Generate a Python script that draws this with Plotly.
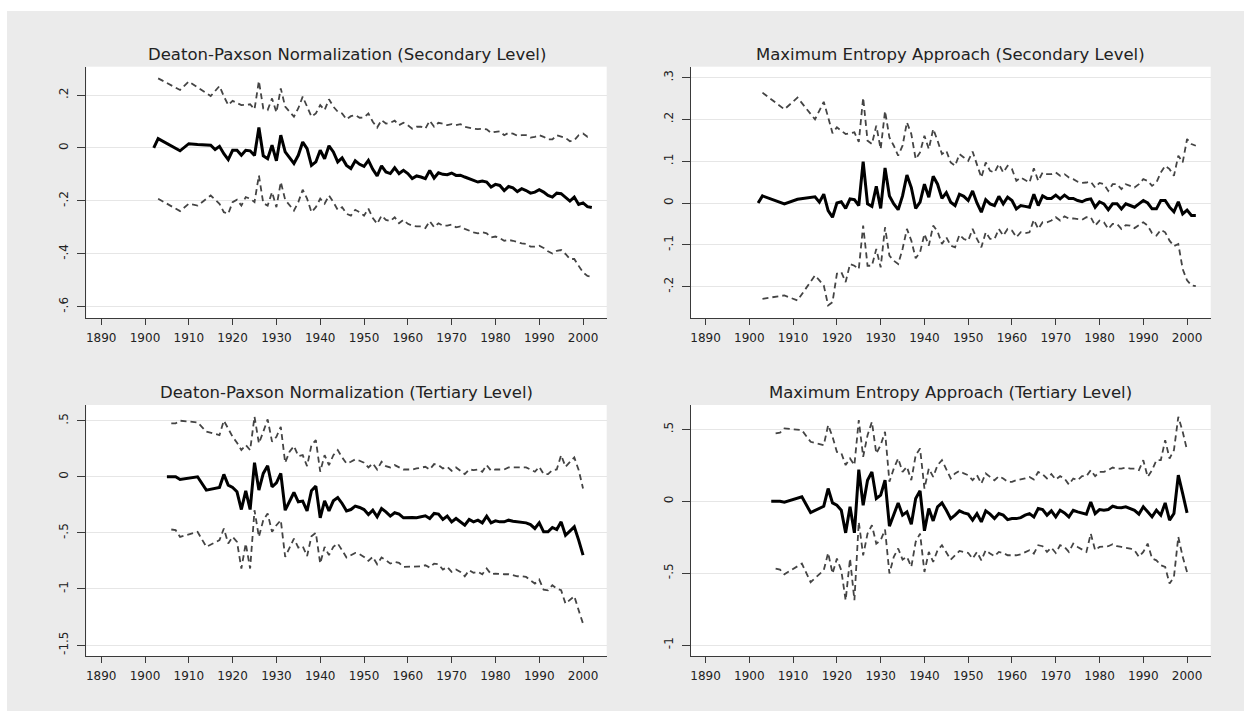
import plotly.graph_objects as go

# ---------------------------------------------------------------- data
years_sec_dp = [1902, 1903, 1908, 1910, 1912] + list(range(1915, 2003))
dp_sec_est = [0.000, 0.035, -0.011, 0.016, 0.013,
    0.010, -0.006, 0.006, -0.022, -0.044, -0.009, -0.009, -0.028, -0.009, -0.011,
    -0.029, 0.077, -0.030, -0.041, 0.010, -0.049, 0.048, -0.015, -0.037, -0.059,
    -0.028, 0.022, -0.003, -0.066, -0.053, -0.009, -0.041, 0.008, -0.015, -0.053,
    -0.038, -0.066, -0.078, -0.049, -0.062, -0.070, -0.047, -0.081, -0.106, -0.068,
    -0.091, -0.097, -0.075, -0.097, -0.085, -0.097, -0.116, -0.106, -0.110, -0.116,
    -0.085, -0.114, -0.094, -0.100, -0.101, -0.095, -0.104, -0.103, -0.110, -0.116,
    -0.123, -0.129, -0.125, -0.129, -0.148, -0.138, -0.142, -0.161, -0.146, -0.151,
    -0.165, -0.154, -0.161, -0.171, -0.167, -0.158, -0.167, -0.180, -0.186, -0.171,
    -0.173, -0.186, -0.201, -0.186, -0.214, -0.208, -0.222, -0.225]
dp_sec_hi = [None, 0.263, 0.219, 0.251, 0.229,
    0.196, 0.215, 0.234, 0.195, 0.162, 0.178, 0.170, 0.162, 0.163, 0.165,
    0.146, 0.253, 0.149, 0.143, 0.187, 0.134, 0.225, 0.156, 0.137, 0.118,
    0.150, 0.194, 0.156, 0.118, 0.130, 0.162, 0.143, 0.184, 0.156, 0.137,
    0.130, 0.108, 0.120, 0.124, 0.114, 0.115, 0.130, 0.099, 0.077, 0.105,
    0.092, 0.095, 0.103, 0.086, 0.095, 0.086, 0.073, 0.080, 0.080, 0.073,
    0.103, 0.080, 0.095, 0.092, 0.086, 0.090, 0.086, 0.090, 0.080, 0.076,
    0.073, 0.071, 0.072, 0.070, 0.057, 0.061, 0.063, 0.048, 0.057, 0.054,
    0.046, 0.048, 0.048, 0.039, 0.042, 0.048, 0.042, 0.032, 0.032, 0.048,
    0.044, 0.038, 0.025, 0.029, 0.048, 0.054, 0.042, 0.044]
dp_sec_lo = [None, -0.192, -0.239, -0.211, -0.218,
    -0.180, -0.195, -0.211, -0.243, -0.249, -0.205, -0.196, -0.218, -0.186, -0.192,
    -0.205, -0.104, -0.209, -0.218, -0.167, -0.224, -0.129, -0.196, -0.218, -0.237,
    -0.205, -0.158, -0.192, -0.243, -0.224, -0.192, -0.211, -0.180, -0.205, -0.234,
    -0.224, -0.249, -0.256, -0.234, -0.243, -0.256, -0.230, -0.265, -0.287, -0.256,
    -0.272, -0.277, -0.262, -0.285, -0.272, -0.287, -0.294, -0.297, -0.297, -0.303,
    -0.277, -0.300, -0.285, -0.294, -0.294, -0.290, -0.300, -0.297, -0.306, -0.313,
    -0.319, -0.323, -0.319, -0.323, -0.338, -0.335, -0.341, -0.351, -0.348, -0.351,
    -0.357, -0.361, -0.363, -0.373, -0.373, -0.370, -0.378, -0.391, -0.399, -0.389,
    -0.386, -0.401, -0.420, -0.420, -0.446, -0.471, -0.484, -0.487]

years_sec_me = [1902, 1903, 1908, 1911] + list(range(1915, 2003))
me_sec_est = [0.000, 0.017, -0.002, 0.009,
    0.015, 0.002, 0.021, -0.018, -0.034, 0.000, 0.003, -0.013, 0.010, 0.008,
    -0.006, 0.099, -0.002, -0.008, 0.040, -0.013, 0.084, 0.017, -0.002, -0.016,
    0.017, 0.067, 0.037, -0.013, 0.002, 0.045, 0.014, 0.064, 0.045, 0.011,
    0.025, 0.002, -0.006, 0.021, 0.016, 0.006, 0.029, 0.000, -0.022, 0.008,
    -0.002, -0.006, 0.016, -0.002, 0.014, 0.006, -0.014, -0.006, -0.008, -0.010,
    0.021, -0.006, 0.017, 0.011, 0.011, 0.019, 0.010, 0.019, 0.011, 0.011,
    0.006, 0.003, 0.008, 0.010, -0.010, 0.003, -0.002, -0.016, -0.002, -0.002,
    -0.014, -0.002, -0.006, -0.010, -0.002, 0.006, 0.000, -0.014, -0.014, 0.006,
    0.006, -0.010, -0.021, 0.003, -0.026, -0.017, -0.030, -0.030]
me_sec_hi = [None, 0.264, 0.224, 0.252,
    0.200, 0.221, 0.242, 0.205, 0.167, 0.181, 0.173, 0.165, 0.167, 0.169,
    0.146, 0.252, 0.149, 0.141, 0.185, 0.129, 0.220, 0.157, 0.137, 0.113,
    0.137, 0.193, 0.165, 0.105, 0.121, 0.161, 0.129, 0.177, 0.149, 0.117,
    0.125, 0.097, 0.089, 0.117, 0.109, 0.101, 0.123, 0.089, 0.061, 0.097,
    0.077, 0.073, 0.093, 0.073, 0.089, 0.081, 0.053, 0.061, 0.056, 0.049,
    0.083, 0.053, 0.073, 0.069, 0.069, 0.073, 0.065, 0.069, 0.061, 0.057,
    0.051, 0.048, 0.049, 0.051, 0.037, 0.048, 0.045, 0.029, 0.045, 0.045,
    0.033, 0.045, 0.041, 0.037, 0.045, 0.057, 0.053, 0.041, 0.049, 0.073,
    0.089, 0.081, 0.065, 0.113, 0.097, 0.153, 0.141, 0.137]
me_sec_lo = [None, -0.229, -0.221, -0.233,
    -0.173, -0.185, -0.197, -0.245, -0.237, -0.169, -0.165, -0.189, -0.146, -0.150,
    -0.158, -0.054, -0.150, -0.150, -0.110, -0.154, -0.058, -0.126, -0.138, -0.146,
    -0.110, -0.062, -0.090, -0.132, -0.118, -0.074, -0.102, -0.054, -0.068, -0.098,
    -0.082, -0.102, -0.106, -0.076, -0.086, -0.090, -0.062, -0.086, -0.106, -0.070,
    -0.086, -0.086, -0.062, -0.078, -0.062, -0.066, -0.082, -0.070, -0.072, -0.070,
    -0.040, -0.062, -0.046, -0.046, -0.042, -0.034, -0.042, -0.032, -0.037, -0.037,
    -0.038, -0.040, -0.034, -0.034, -0.054, -0.042, -0.046, -0.062, -0.050, -0.050,
    -0.062, -0.053, -0.054, -0.060, -0.053, -0.046, -0.054, -0.072, -0.078, -0.064,
    -0.070, -0.090, -0.103, -0.098, -0.158, -0.185, -0.197, -0.199]

years_ter = [1905, 1906, 1907, 1908, 1912, 1914] + list(range(1917, 2001))
dp_ter_est = [0.000, 0.000, 0.000, -0.024, 0.000, -0.119,
    -0.095, 0.021, -0.074, -0.095, -0.134, -0.292, -0.125, -0.292, 0.125, -0.119,
    0.030, 0.098, -0.089, -0.054, 0.030, -0.298, -0.223, -0.140, -0.223, -0.217,
    -0.304, -0.125, -0.083, -0.366, -0.214, -0.304, -0.214, -0.185, -0.238, -0.304,
    -0.292, -0.262, -0.274, -0.292, -0.336, -0.298, -0.357, -0.283, -0.313, -0.351,
    -0.321, -0.333, -0.366, -0.363, -0.363, -0.366, -0.357, -0.348, -0.372, -0.327,
    -0.333, -0.381, -0.351, -0.402, -0.372, -0.402, -0.432, -0.381, -0.402, -0.387,
    -0.411, -0.351, -0.411, -0.393, -0.402, -0.402, -0.387, -0.396, -0.402, -0.402,
    -0.411, -0.426, -0.461, -0.411, -0.491, -0.491, -0.452, -0.470, -0.402, -0.521,
    -0.485, -0.446, -0.565, -0.699]
dp_ter_hi = [None, 0.476, 0.476, 0.500, 0.485, 0.402,
    0.372, 0.500, 0.432, 0.357, 0.304, 0.238, 0.283, 0.238, 0.536, 0.298,
    0.402, 0.512, 0.313, 0.357, 0.446, 0.125, 0.223, 0.274, 0.185, 0.193,
    0.095, 0.283, 0.327, 0.045, 0.193, 0.104, 0.193, 0.238, 0.173, 0.119,
    0.134, 0.155, 0.143, 0.125, 0.083, 0.119, 0.065, 0.134, 0.095, 0.083,
    0.104, 0.083, 0.065, 0.065, 0.065, 0.074, 0.083, 0.089, 0.065, 0.113,
    0.104, 0.074, 0.089, 0.054, 0.083, 0.054, 0.024, 0.065, 0.060, 0.065,
    0.045, 0.104, 0.054, 0.065, 0.065, 0.065, 0.083, 0.083, 0.083, 0.083,
    0.083, 0.065, 0.045, 0.089, 0.024, 0.024, 0.060, 0.065, 0.193, 0.089,
    0.134, 0.173, 0.060, -0.104]
dp_ter_lo = [None, -0.470, -0.476, -0.536, -0.491, -0.625,
    -0.565, -0.461, -0.595, -0.536, -0.580, -0.818, -0.595, -0.818, -0.298, -0.536,
    -0.387, -0.327, -0.491, -0.432, -0.387, -0.714, -0.625, -0.551, -0.631, -0.619,
    -0.708, -0.530, -0.500, -0.774, -0.625, -0.699, -0.625, -0.595, -0.655, -0.720,
    -0.699, -0.679, -0.690, -0.714, -0.750, -0.714, -0.780, -0.720, -0.744, -0.774,
    -0.759, -0.768, -0.804, -0.804, -0.804, -0.804, -0.798, -0.789, -0.810, -0.774,
    -0.780, -0.827, -0.804, -0.848, -0.827, -0.848, -0.887, -0.833, -0.857, -0.848,
    -0.869, -0.818, -0.869, -0.863, -0.869, -0.869, -0.869, -0.878, -0.887, -0.887,
    -0.893, -0.923, -0.952, -0.917, -1.006, -1.012, -0.967, -0.997, -1.012, -1.131,
    -1.101, -1.065, -1.190, -1.310]

me_ter_est = [0.000, 0.000, 0.000, -0.007, 0.030, -0.079,
    -0.035, 0.088, -0.012, -0.028, -0.063, -0.220, -0.039, -0.220, 0.220, -0.028,
    0.146, 0.204, 0.019, 0.042, 0.146, -0.174, -0.086, -0.012, -0.097, -0.074,
    -0.160, 0.019, 0.072, -0.206, -0.051, -0.137, -0.039, -0.012, -0.063, -0.121,
    -0.097, -0.067, -0.081, -0.090, -0.132, -0.086, -0.144, -0.067, -0.090, -0.121,
    -0.086, -0.097, -0.128, -0.121, -0.121, -0.114, -0.097, -0.086, -0.109, -0.051,
    -0.058, -0.097, -0.067, -0.109, -0.063, -0.081, -0.109, -0.063, -0.074, -0.081,
    -0.090, -0.005, -0.086, -0.058, -0.063, -0.058, -0.035, -0.044, -0.046, -0.039,
    -0.051, -0.063, -0.090, -0.039, -0.074, -0.109, -0.063, -0.097, -0.012, -0.132,
    -0.086, 0.181, 0.053, -0.081]
me_ter_hi = [None, 0.471, 0.476, 0.506, 0.494, 0.413,
    0.390, 0.529, 0.448, 0.343, 0.336, 0.251, 0.297, 0.251, 0.564, 0.309,
    0.459, 0.552, 0.332, 0.390, 0.483, 0.135, 0.227, 0.297, 0.204, 0.239,
    0.146, 0.320, 0.367, 0.088, 0.227, 0.169, 0.251, 0.285, 0.216, 0.158,
    0.193, 0.211, 0.193, 0.181, 0.146, 0.181, 0.123, 0.193, 0.169, 0.146,
    0.174, 0.158, 0.135, 0.135, 0.146, 0.151, 0.158, 0.169, 0.151, 0.204,
    0.188, 0.158, 0.188, 0.151, 0.174, 0.158, 0.116, 0.158, 0.146, 0.174,
    0.174, 0.216, 0.174, 0.204, 0.204, 0.216, 0.234, 0.227, 0.227, 0.234,
    0.227, 0.227, 0.216, 0.285, 0.169, 0.216, 0.285, 0.285, 0.425, 0.297,
    0.355, 0.587, 0.483, 0.355]
me_ter_lo = [None, -0.469, -0.476, -0.508, -0.434, -0.563,
    -0.480, -0.360, -0.503, -0.399, -0.480, -0.689, -0.399, -0.689, -0.144, -0.376,
    -0.225, -0.167, -0.295, -0.271, -0.197, -0.503, -0.387, -0.329, -0.406, -0.387,
    -0.457, -0.283, -0.225, -0.492, -0.353, -0.422, -0.341, -0.306, -0.353, -0.406,
    -0.376, -0.346, -0.353, -0.360, -0.399, -0.353, -0.411, -0.341, -0.364, -0.383,
    -0.353, -0.360, -0.376, -0.376, -0.376, -0.369, -0.353, -0.341, -0.364, -0.306,
    -0.313, -0.353, -0.323, -0.360, -0.306, -0.318, -0.353, -0.295, -0.318, -0.336,
    -0.353, -0.225, -0.341, -0.318, -0.318, -0.313, -0.299, -0.313, -0.318, -0.323,
    -0.329, -0.341, -0.387, -0.353, -0.295, -0.399, -0.411, -0.445, -0.457, -0.573,
    -0.527, -0.248, -0.387, -0.492]

titles = [
    "Deaton-Paxson Normalization (Secondary Level)",
    "Maximum Entropy Approach (Secondary Level)",
    "Deaton-Paxson Normalization (Tertiary Level)",
    "Maximum Entropy Approach (Tertiary Level)",
]
x_ticks = [1890, 1900, 1910, 1920, 1930, 1940, 1950, 1960, 1970, 1980, 1990, 2000]
y_ticks = [
    ([-0.6, -0.4, -0.2, 0, 0.2], ["-.6", "-.4", "-.2", "0", ".2"]),
    ([-0.2, -0.1, 0, 0.1, 0.2, 0.3], ["-.2", "-.1", "0", ".1", ".2", ".3"]),
    ([-1.5, -1, -0.5, 0, 0.5], ["-1.5", "-1", "-.5", "0", ".5"]),
    ([-1, -0.5, 0, 0.5], ["-1", "-.5", "0", ".5"]),
]
y_ranges = [[-0.643, 0.307], [-0.275, 0.326], [-1.598, 0.640], [-1.0765, 0.669]]

panels = [
    (years_sec_dp, dp_sec_est, dp_sec_hi, dp_sec_lo),
    (years_sec_me, me_sec_est, me_sec_hi, me_sec_lo),
    (years_ter, dp_ter_est, dp_ter_hi, dp_ter_lo),
    (years_ter, me_ter_est, me_ter_hi, me_ter_lo),
]

# ---------------------------------------------------------------- layout
W, H = 1244, 711
x_doms = [[86.3 / W, 606.7 / W], [690.7 / W, 1210.7 / W]]
y_doms = [[1 - 318 / H, 1 - 66.7 / H], [1 - 656 / H, 1 - 405 / H]]

FONT = "DejaVu Sans, Verdana, sans-serif"
BG = "#EBEBEB"
AX = "#3a3a3a"
TXT = "#222222"

fig = go.Figure()
layout = dict(
    width=W, height=H,
    margin=dict(l=0, r=0, t=0, b=0),
    paper_bgcolor=BG, plot_bgcolor="white",
    showlegend=False,
    font=dict(family=FONT, color=TXT, size=12),
    shapes=[
        dict(type="rect", xref="paper", yref="paper", x0=0, x1=1, y0=1 - 11 / H, y1=1,
             fillcolor="white", line=dict(width=0), layer="below"),
        dict(type="rect", xref="paper", yref="paper", x0=0, x1=7 / W, y0=0, y1=1,
             fillcolor="white", line=dict(width=0), layer="below"),
    ],
    annotations=[],
)

for i, (yrs, est, hi, lo) in enumerate(panels):
    row, col = divmod(i, 2)
    n = i + 1
    xa = "x" if n == 1 else f"x{n}"
    ya = "y" if n == 1 else f"y{n}"
    # confidence bounds (dashed)
    for vals in (hi, lo):
        fig.add_trace(go.Scatter(
            x=yrs, y=vals, mode="lines", xaxis=xa, yaxis=ya,
            connectgaps=True,
            line=dict(color="#444444", width=1.8, dash="6px,4px"),
        ))
    # point estimate (solid)
    fig.add_trace(go.Scatter(
        x=yrs, y=est, mode="lines", xaxis=xa, yaxis=ya,
        line=dict(color="black", width=3),
    ))

    xkey = "xaxis" if n == 1 else f"xaxis{n}"
    ykey = "yaxis" if n == 1 else f"yaxis{n}"
    layout[xkey] = dict(
        domain=x_doms[col], anchor=ya, range=[1886.6, 2005.4],
        tickvals=x_ticks, ticks="outside", ticklen=6, tickwidth=1.2, tickcolor=AX,
        showline=True, linecolor=AX, linewidth=1.3, showgrid=False, zeroline=False,
        tickfont=dict(size=12, color=TXT), ticklabelstandoff=2,
    )
    tv, tt = y_ticks[i]
    layout[ykey] = dict(
        domain=y_doms[row], anchor=xa, range=y_ranges[i],
        tickvals=tv, ticktext=tt, tickangle=-90,
        ticks="outside", ticklen=8, tickwidth=1.2, tickcolor=AX,
        showline=True, linecolor=AX, linewidth=1.3,
        showgrid=True, gridcolor="#E6E6E6", gridwidth=1, zeroline=False,
        tickfont=dict(size=12, color=TXT), ticklabelstandoff=4,
    )
    layout["annotations"].append(dict(
        text=titles[i], xref="paper", yref="paper",
        x=sum(x_doms[col]) / 2, y=y_doms[row][1], xanchor="center", yanchor="bottom",
        yshift=1, showarrow=False, font=dict(size=16.5, color=TXT, family=FONT),
    ))

fig.update_layout(**layout)
fig.write_html("out.html")
